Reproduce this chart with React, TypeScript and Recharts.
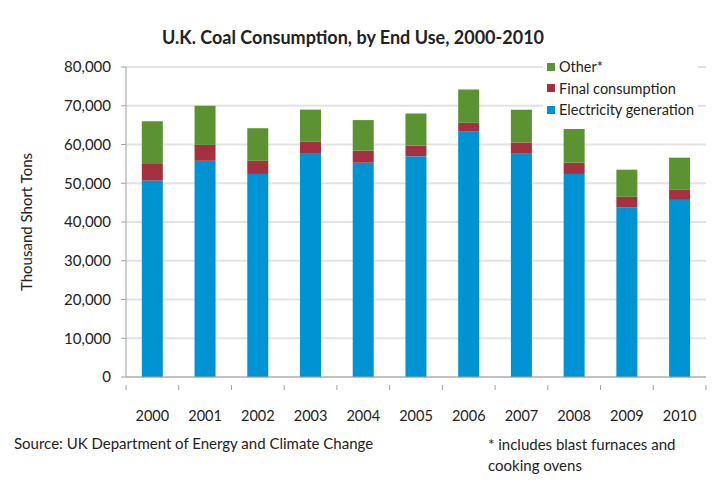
import React from 'react'
import { BarChart, Bar, XAxis, YAxis, CartesianGrid, Label } from 'recharts'

// values in thousand short tons
const YEARS = ['2000', '2001', '2002', '2003', '2004', '2005', '2006', '2007', '2008', '2009', '2010']
const ELECTRICITY = [50700, 55800, 52400, 57600, 55300, 57000, 63300, 57600, 52400, 43700, 45700]
const FINAL_CONSUMPTION = [4300, 4100, 3400, 3200, 3100, 2700, 2300, 2900, 2900, 2800, 2600]
const OTHER = [11000, 10100, 8400, 8200, 7900, 8300, 8600, 8500, 8700, 7000, 8300]
const Y_TICKS = [0, 10000, 20000, 30000, 40000, 50000, 60000, 70000, 80000]

const SERIES = [
  { key: 'electricity', name: 'Electricity generation', color: '#0093D3' },
  { key: 'final', name: 'Final consumption', color: '#A5303F' },
  { key: 'other', name: 'Other*', color: '#5B9232' },
]

const FONT = 'Lato, "Open Sans", sans-serif'

const data = YEARS.map((year, i) => ({
  year,
  electricity: ELECTRICITY[i],
  final: FINAL_CONSUMPTION[i],
  other: OTHER[i],
}))

// category label plus the short tick marks on the band edges
const YearTick = (props: any) => {
  const { x, y, payload, index } = props
  const half = payload.offset || 0
  const last = index === YEARS.length - 1
  return (
    <g>
      <line x1={x - half} x2={x - half} y1={y} y2={y + 5} stroke="#a0a0a0" />
      {last && <line x1={x + half} x2={x + half} y1={y} y2={y + 5} stroke="#a0a0a0" />}
      <text x={x} y={y + 36} textAnchor="middle" fontSize={14.5} fill="#222" stroke="none" fontFamily={FONT}>
        {payload.value}
      </text>
    </g>
  )
}

const LegendBox = () => (
  <div style={{ position: 'absolute', left: 543, top: 56, fontSize: 14.5, color: '#222', background: '#fff', padding: '0 4px' }}>
    {[...SERIES].reverse().map(s => (
      <div key={s.key} style={{ display: 'flex', alignItems: 'center', height: 21.5 }}>
        <span style={{ width: 8, height: 8, background: s.color, marginRight: 4, display: 'inline-block' }} />
        {s.name}
      </div>
    ))}
  </div>
)

export default function App() {
  return (
    <div style={{ position: 'absolute', left: 0, top: 0, width: 720, height: 485, background: '#fff', fontFamily: FONT }}>
      <div style={{ position: 'absolute', top: 26, width: 706, textAlign: 'center', fontWeight: 'bold', fontSize: 18, color: '#222' }}>
        U.K. Coal Consumption, by End Use, 2000-2010
      </div>
      <BarChart
        width={720}
        height={485}
        data={data}
        margin={{ top: 67, right: 14, bottom: 68, left: 0 }}
        barCategoryGap="30%"
      >
        <CartesianGrid vertical={false} stroke="#e3e3e3" strokeWidth={2} />
        <XAxis
          dataKey="year"
          height={40}
          tick={<YearTick />}
          tickLine={false}
          axisLine={{ stroke: '#a0a0a0' }}
          interval={0}
        />
        <YAxis
          width={126}
          domain={[0, 80000]}
          ticks={Y_TICKS}
          tickFormatter={(v: number) => v.toLocaleString('en-US')}
          tick={{ fontSize: 15, fill: '#222', fontFamily: FONT }}
          tickSize={5}
          tickMargin={10}
          tickLine={{ stroke: '#a0a0a0' }}
          axisLine={{ stroke: '#a0a0a0' }}
        >
          <Label
            value="Thousand Short Tons"
            angle={-90}
            position="insideLeft"
            offset={27}
            style={{ textAnchor: 'middle', fontSize: 15, fill: '#222', fontFamily: FONT }}
          />
        </YAxis>
        {SERIES.map(s => (
          <Bar key={s.key} dataKey={s.key} name={s.name} stackId="coal" fill={s.color} isAnimationActive={false} />
        ))}
      </BarChart>
      <LegendBox />
      <div style={{ position: 'absolute', left: 14, top: 434, fontSize: 15, color: '#222' }}>
        Source: UK Department of Energy and Climate Change
      </div>
      <div style={{ position: 'absolute', left: 488, top: 434, fontSize: 15, color: '#222', lineHeight: '21px' }}>
        * includes blast furnaces and
        <br />
        cooking ovens
      </div>
    </div>
  )
}
